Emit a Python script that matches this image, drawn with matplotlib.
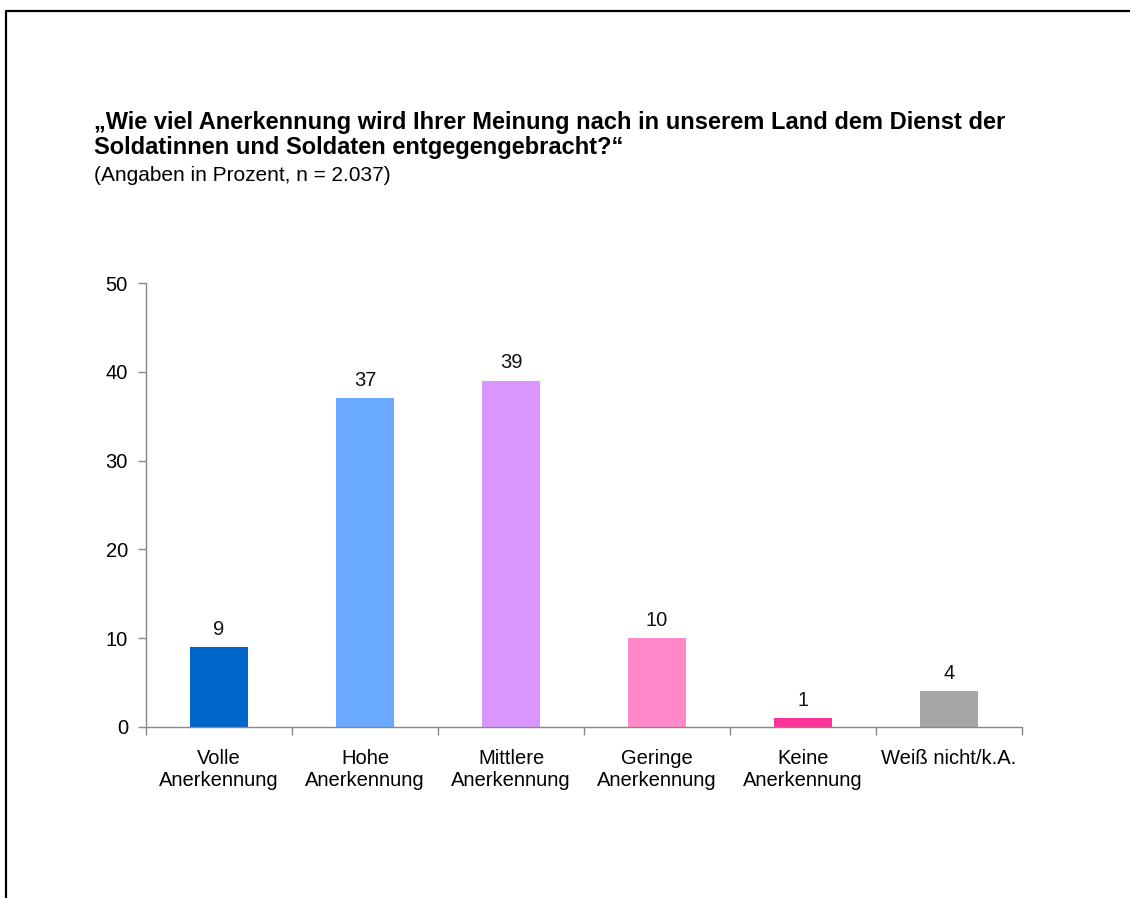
import matplotlib
matplotlib.use("Agg")
import matplotlib.pyplot as plt
from matplotlib.lines import Line2D

categories = ["Volle\nAnerkennung", "Hohe\nAnerkennung", "Mittlere\nAnerkennung",
              "Geringe\nAnerkennung", "Keine\nAnerkennung", "Weiß nicht/k.A."]
values = [9, 37, 39, 10, 1, 4]
colors = ["#0066CC", "#69AAFF", "#DA95FF", "#FF88C8", "#FF3399", "#A6A6A6"]
yticks = [0, 10, 20, 30, 40, 50]

title_lines = ["„Wie viel Anerkennung wird Ihrer Meinung nach in unserem Land dem Dienst der",
               "Soldatinnen und Soldaten entgegengebracht?“"]
subtitle = "(Angaben in Prozent, n = 2.037)"

plt.rcParams['font.family'] = ['Liberation Sans', 'DejaVu Sans']

W, H = 1130, 898
fig = plt.figure(figsize=(W / 100, H / 100), dpi=100)
ax = fig.add_axes([146 / W, 1 - 727 / H, (1022 - 146) / W, (727 - 283) / H])

x = list(range(len(values)))
ax.bar(x, values, width=0.4, color=colors, zorder=2)
for xi, v in zip(x, values):
    ax.annotate(str(v), (xi, v), xytext=(0, 6), textcoords="offset points",
                ha="center", va="bottom", fontsize=14.5, color="#111111")

ax.set_xlim(-0.5, len(values) - 0.5)
ax.set_ylim(0, 50)
ax.set_yticks(yticks)
ax.set_yticklabels([str(t) for t in yticks], fontsize=14.5)
ax.set_xticks(x)
ax.set_xticklabels(categories, fontsize=14.5, linespacing=1.2)
ax.tick_params(axis="x", length=0, pad=15.5)
ax.set_xticks([i - 0.5 for i in range(len(values) + 1)], minor=True)
ax.tick_params(axis="x", which="minor", length=6, color="#888888", width=1)
ax.tick_params(axis="y", length=6, color="#888888", width=1, pad=7)

for s in ["top", "right"]:
    ax.spines[s].set_visible(False)
for s in ["left", "bottom"]:
    ax.spines[s].set_color("#888888")
    ax.spines[s].set_linewidth(1)

fig.text(94 / W, 1 - 129 / H, title_lines[0], fontsize=17, fontweight="bold",
         ha="left", va="baseline")
fig.text(94 / W, 1 - 154 / H, title_lines[1], fontsize=17, fontweight="bold",
         ha="left", va="baseline")
fig.text(94 / W, 1 - 181 / H, subtitle, fontsize=15, ha="left", va="baseline")

fig.add_artist(Line2D([6 / W, 6 / W, 1.0], [0, 1 - 11 / H, 1 - 11 / H],
                      transform=fig.transFigure, color="black", linewidth=1.6))

fig.savefig("out.png", dpi=100)
